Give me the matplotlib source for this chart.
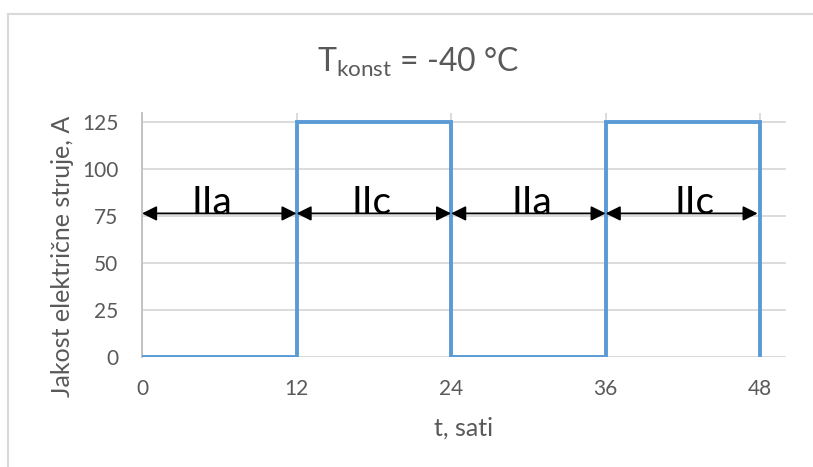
import matplotlib
matplotlib.use("Agg")
import matplotlib.pyplot as plt
from matplotlib.lines import Line2D

plt.rcParams['font.family'] = ['Lato', 'DejaVu Sans']
plt.rcParams['mathtext.fontset'] = 'custom'
plt.rcParams['mathtext.rm'] = 'Lato'

# podaci: stepenasti profil struje
t_sati = [0, 12, 12, 24, 24, 36, 36, 48, 48]
struja = [0, 0, 125, 125, 0, 0, 125, 125, 0]

# periodi sa oznakama
periodi = [(0, 12), (12, 24), (24, 36), (36, 47.8)]
oznake = ['IIa', 'IIc', 'IIa', 'IIc']
oznake_x = [5.4, 17.8, 30.3, 42.9]
strelica_y = 76.5

y_ticks = [0, 25, 50, 75, 100, 125]
x_ticks = [0, 12, 24, 36, 48]

siva = '#595959'
mreza = '#d9d9d9'
plava = '#5b9bd5'

fig = plt.figure(figsize=(8.13, 4.67), dpi=100)
ax = fig.add_axes([142/813, 1 - 357/467, (786 - 142)/813, (357 - 113)/467])

# mreza
for y in y_ticks:
    ax.axhline(y, color=mreza, lw=1.3, zorder=1)
for x in x_ticks:
    ax.axvline(x, color=mreza, lw=1.3, zorder=1)

ax.plot(t_sati, struja, color=plava, lw=2.8, zorder=3, solid_joinstyle='miter')

# strelice i oznake
for (a, b), txt, xt in zip(periodi, oznake, oznake_x):
    ax.annotate('', xy=(b, strelica_y), xytext=(a, strelica_y),
                arrowprops=dict(arrowstyle='<|-|>', color='black', lw=1.3,
                                mutation_scale=22, shrinkA=0, shrinkB=0),
                zorder=4)
    ax.text(xt, strelica_y - 0.5, txt, fontsize=28, color='black',
            ha='center', va='baseline', zorder=5)

ax.set_xlim(0, 50)
ax.set_ylim(0, 130)
ax.set_xticks(x_ticks)
ax.set_yticks(y_ticks)
ax.tick_params(axis='both', length=0, labelsize=15, labelcolor=siva)
ax.tick_params(axis='y', pad=17)
ax.tick_params(axis='x', pad=16)
for s in ['top', 'right', 'bottom']:
    ax.spines[s].set_visible(False)
ax.spines['left'].set_color('#bfbfbf')
ax.spines['left'].set_linewidth(1.3)

fig.text(62/813, 1 - 256/467, 'Jakost električne struje, A', rotation=90,
         fontsize=18, color=siva, ha='center', va='center')
fig.text(463/813, 1 - 428/467, 't, sati', fontsize=18, color=siva,
         ha='center', va='center')
fig.text(418/813, 1 - 62/467, r'$\mathregular{T_{konst}}$ = -40 °C',
         fontsize=23, color=siva, ha='center', va='center')

# okvir grafikona
fig.add_artist(Line2D([8/813, 8/813], [0, 1 - 14/467], transform=fig.transFigure,
                      color=mreza, lw=1.5))
fig.add_artist(Line2D([8/813, 1], [1 - 14/467, 1 - 14/467], transform=fig.transFigure,
                      color=mreza, lw=1.5))

fig.savefig('out.png', dpi=100)
